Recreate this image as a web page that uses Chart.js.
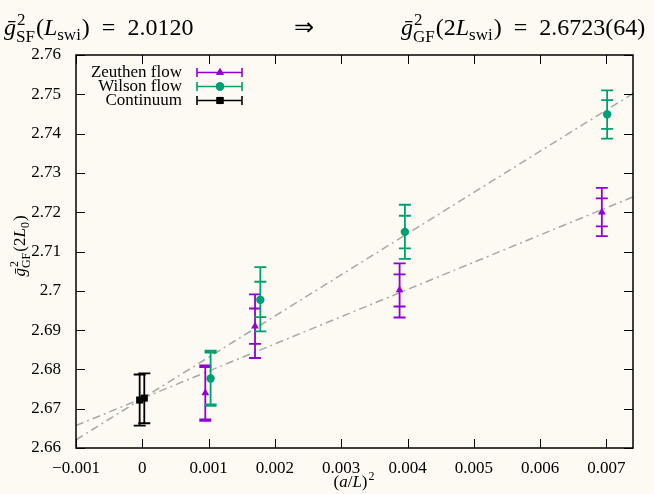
<!DOCTYPE html>
<html>
<head>
<meta charset="utf-8">
<script src="https://cdn.jsdelivr.net/npm/chart.js@4"></script>
<style>
  html, body { margin: 0; padding: 0; background: #fcfaf2; }
</style>
</head>
<body>
<canvas id="c" width="654" height="494"></canvas>
<script>
// tick values and labels
const xTicks = [-0.001, 0, 0.001, 0.002, 0.003, 0.004, 0.005, 0.006, 0.007];
const xTickLabels = ['\u22120.001', '0', '0.001', '0.002', '0.003', '0.004', '0.005', '0.006', '0.007'];
const yTicks = [2.66, 2.67, 2.68, 2.69, 2.7, 2.71, 2.72, 2.73, 2.74, 2.75, 2.76];
const yTickLabels = ['2.66', '2.67', '2.68', '2.69', '2.7', '2.71', '2.72', '2.73', '2.74', '2.75', '2.76'];

// Zeuthen flow
const zeuthenX = [0.00095, 0.0017, 0.00388, 0.00693];
const zeuthenY = [2.6740, 2.6910, 2.7002, 2.7200];
const zeuthenOuterLo = [2.6669, 2.6829, 2.6932, 2.7139];
const zeuthenOuterHi = [2.6810, 2.6991, 2.7070, 2.7262];
const zeuthenInnerLo = [2.6673, 2.6865, 2.6960, 2.7164];
const zeuthenInnerHi = [2.6806, 2.6955, 2.7042, 2.7235];

// Wilson flow
const wilsonX = [0.00103, 0.00178, 0.00396, 0.00701];
const wilsonY = [2.6777, 2.6977, 2.7150, 2.7449];
const wilsonOuterLo = [2.6707, 2.6897, 2.7081, 2.7387];
const wilsonOuterHi = [2.6848, 2.7060, 2.7219, 2.7510];
const wilsonInnerLo = [2.6711, 2.6933, 2.7108, 2.7412];
const wilsonInnerHi = [2.6843, 2.7023, 2.7191, 2.7485];

// Continuum
const contX = [-0.00004, 0.00003];
const contY = [2.6722, 2.6727];
const contLo = [2.6657, 2.6663];
const contHi = [2.6787, 2.6790];

// fit lines (end points)
const fitX = [-0.001, 0.0074];
const wilsonFitY = [2.6621, 2.7502];
const zeuthenFitY = [2.6657, 2.7239];

const PURPLE = '#9400d3';
const GREEN = '#009e73';
const BLACK = '#000000';
const BG = '#fcfaf2';
const FONT = 'Liberation Serif';

function pts(xs, ys) { return xs.map((x, i) => ({ x: x, y: ys[i] })); }

// rich text: parts = [{t, i}] or {sup, sub}
function rich(ctx, parts, x, y, size, draw) {
  let cx = x;
  const small = Math.round(size * 0.7);
  for (const p of parts) {
    if (p.t !== undefined) {
      ctx.font = (p.i ? 'italic ' : '') + size + 'px ' + FONT;
      if (draw) ctx.fillText(p.t, cx, y);
      cx += ctx.measureText(p.t).width;
    } else {
      ctx.font = small + 'px ' + FONT;
      let w = 0;
      if (p.sup) {
        if (draw) ctx.fillText(p.sup, cx + 1, y - size * 0.4);
        w = Math.max(w, ctx.measureText(p.sup).width + 1);
      }
      if (p.sub) {
        if (draw) ctx.fillText(p.sub, cx, y + size * (p.sup ? 0.3 : 0.22));
        w = Math.max(w, ctx.measureText(p.sub).width);
      }
      cx += w + 1;
    }
  }
  return cx - x;
}

const titleLeft = [{ t: '\u1E21', i: true }, { sup: '2', sub: 'SF' }, { t: '(' }, { t: 'L', i: true }, { sub: 'swi' }, { t: ')  =  2.0120' }];
const titleRight = [{ t: '\u1E21', i: true }, { sup: '2', sub: 'GF' }, { t: '(2' }, { t: 'L', i: true }, { sub: 'swi' }, { t: ')  =  2.6723(64)' }];
const yTitle = [{ t: '\u1E21', i: true }, { sup: '2', sub: 'GF' }, { t: '(2' }, { t: 'L', i: true }, { sub: '0' }, { t: ')' }];
const xTitle = [{ t: '(' }, { t: 'a', i: true }, { t: '/' }, { t: 'L', i: true }, { t: ')' }, { sup: '2' }];

const legendItems = [
  { label: 'Zeuthen flow', color: PURPLE, style: 'triangle', r: 4.5 },
  { label: 'Wilson flow', color: GREEN, style: 'circle', r: 4.2 },
  { label: 'Continuum', color: BLACK, style: 'rect', r: 5 }
];

const decor = {
  id: 'decor',
  beforeDraw(chart) {
    const ctx = chart.ctx;
    ctx.save();
    ctx.fillStyle = BG;
    ctx.fillRect(0, 0, chart.width, chart.height);
    ctx.restore();
  },
  afterDatasetsDraw(chart) {
    const ctx = chart.ctx;
    const xs = chart.scales.x, ys = chart.scales.y;
    const a = chart.chartArea;
    ctx.save();
    // error bars
    const bars = [
      [zeuthenX, zeuthenOuterLo, zeuthenOuterHi, zeuthenInnerLo, zeuthenInnerHi, PURPLE],
      [wilsonX, wilsonOuterLo, wilsonOuterHi, wilsonInnerLo, wilsonInnerHi, GREEN],
      [contX, contLo, contHi, null, null, BLACK]
    ];
    ctx.lineWidth = 1.8;
    for (const [bx, lo, hi, ilo, ihi, col] of bars) {
      ctx.strokeStyle = col;
      bx.forEach((xv, i) => {
        const px = xs.getPixelForValue(xv);
        const caps = [lo[i], hi[i]];
        if (ilo) caps.push(ilo[i], ihi[i]);
        ctx.beginPath();
        ctx.moveTo(px, ys.getPixelForValue(lo[i]));
        ctx.lineTo(px, ys.getPixelForValue(hi[i]));
        for (const c of caps) {
          const py = ys.getPixelForValue(c);
          ctx.moveTo(px - 6, py);
          ctx.lineTo(px + 6, py);
        }
        ctx.stroke();
      });
    }
    // frame and inward ticks
    ctx.strokeStyle = BLACK;
    ctx.lineWidth = 1;
    ctx.beginPath();
    for (const v of xTicks) {
      const px = Math.round(xs.getPixelForValue(v)) + 0.5;
      ctx.moveTo(px, a.bottom); ctx.lineTo(px, a.bottom - 9);
      ctx.moveTo(px, a.top); ctx.lineTo(px, a.top + 9);
    }
    for (const v of yTicks) {
      const py = Math.round(ys.getPixelForValue(v)) + 0.5;
      ctx.moveTo(a.left, py); ctx.lineTo(a.left + 9, py);
      ctx.moveTo(a.right, py); ctx.lineTo(a.right - 9, py);
    }
    ctx.stroke();
    ctx.lineWidth = 1.5;
    ctx.strokeRect(a.left, a.top, a.right - a.left, a.bottom - a.top);

    // legend
    ctx.textBaseline = 'middle';
    legendItems.forEach((it, i) => {
      const y = 72.5 + i * 14;
      ctx.fillStyle = BLACK;
      ctx.font = '17px ' + FONT;
      ctx.textAlign = 'right';
      ctx.fillText(it.label, 182, y);
      ctx.strokeStyle = it.color;
      ctx.fillStyle = it.color;
      ctx.lineWidth = 1.6;
      ctx.beginPath();
      ctx.moveTo(197, y); ctx.lineTo(242, y);
      ctx.moveTo(197, y - 4.5); ctx.lineTo(197, y + 4.5);
      ctx.moveTo(242, y - 4.5); ctx.lineTo(242, y + 4.5);
      ctx.stroke();
      Chart.helpers.drawPoint(ctx, { pointStyle: it.style, radius: it.r, borderWidth: 0 }, 220, y);
      ctx.fill();
    });

    // titles
    ctx.fillStyle = BLACK;
    ctx.textAlign = 'left';
    ctx.textBaseline = 'alphabetic';
    rich(ctx, titleLeft, 4, 35, 24, true);
    ctx.font = '24px ' + FONT;
    ctx.textAlign = 'center';
    ctx.fillText('\u21D2', 304, 35);
    ctx.textAlign = 'left';
    rich(ctx, titleRight, 401, 35, 24, true);

    const xw = rich(ctx, xTitle, 0, 0, 17, false);
    rich(ctx, xTitle, (a.left + a.right) / 2 - xw / 2, 487, 17, true);

    const yw = rich(ctx, yTitle, 0, 0, 17, false);
    ctx.translate(25, 246);
    ctx.rotate(-Math.PI / 2);
    rich(ctx, yTitle, -yw / 2, 0, 17, true);
    ctx.restore();
  }
};

new Chart(document.getElementById('c'), {
  type: 'scatter',
  data: {
    datasets: [
      {
        label: 'Zeuthen flow', data: pts(zeuthenX, zeuthenY),
        pointStyle: 'triangle', pointRadius: 4.5, backgroundColor: PURPLE, borderColor: PURPLE, borderWidth: 0, order: 1
      },
      {
        label: 'Wilson flow', data: pts(wilsonX, wilsonY),
        pointStyle: 'circle', pointRadius: 4.2, backgroundColor: GREEN, borderColor: GREEN, borderWidth: 0, order: 1
      },
      {
        label: 'Continuum', data: pts(contX, contY),
        pointStyle: 'rect', pointRadius: 5, backgroundColor: BLACK, borderColor: BLACK, borderWidth: 0, order: 1
      },
      {
        type: 'line', label: 'fit W', data: pts(fitX, wilsonFitY), showLine: true,
        borderColor: '#a8a8a8', borderWidth: 1.5, borderDash: [8, 4, 2, 4], pointRadius: 0, order: 5
      },
      {
        type: 'line', label: 'fit Z', data: pts(fitX, zeuthenFitY), showLine: true,
        borderColor: '#a8a8a8', borderWidth: 1.5, borderDash: [8, 4, 2, 4], pointRadius: 0, order: 5
      }
    ]
  },
  options: {
    responsive: false,
    animation: false,
    layout: { padding: { top: 55, right: 21, left: 0, bottom: 0 } },
    plugins: { legend: { display: false }, tooltip: { enabled: false }, title: { display: false } },
    scales: {
      x: {
        type: 'linear', min: -0.001, max: 0.0074,
        grid: { display: false, drawTicks: false }, border: { display: false },
        afterBuildTicks: s => { s.ticks = xTicks.map(v => ({ value: v })); },
        afterFit: s => { s.height = 46; },
        ticks: {
          autoSkip: false, maxRotation: 0, padding: 10, color: BLACK,
          font: { family: FONT, size: 17 },
          callback: v => xTickLabels[xTicks.indexOf(v)]
        }
      },
      y: {
        type: 'linear', min: 2.66, max: 2.76,
        grid: { display: false, drawTicks: false }, border: { display: false },
        afterBuildTicks: s => { s.ticks = yTicks.map(v => ({ value: v })); },
        afterFit: s => { s.width = 76; },
        ticks: {
          autoSkip: false, padding: 15, color: BLACK,
          font: { family: FONT, size: 17 },
          callback: v => yTickLabels[yTicks.indexOf(v)]
        }
      }
    }
  },
  plugins: [decor]
});
</script>
</body>
</html>
